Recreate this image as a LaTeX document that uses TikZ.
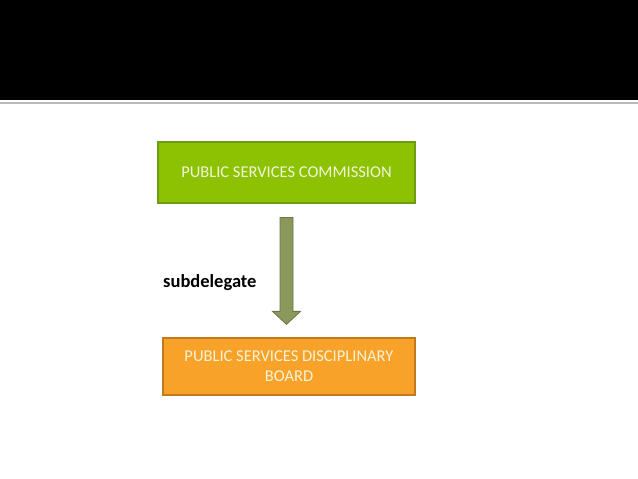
\documentclass[tikz,border=0pt]{standalone}
\usepackage{fontspec}
\setmainfont{Carlito}
\usetikzlibrary{calc}
\definecolor{boxgreen}{HTML}{8CC201}
\definecolor{edgegreen}{HTML}{6E9A14}
\definecolor{boxorange}{HTML}{F9A229}
\definecolor{edgeorange}{HTML}{C27A1E}
\definecolor{arrowolive}{HTML}{8A985C}
\definecolor{arrowedge}{HTML}{687640}
\definecolor{labeltext}{HTML}{F2F4D8}
\tikzset{
  bodybox/.style={draw,line width=1.2pt,align=center,text=labeltext,font=\fontsize{16.5}{20}\selectfont,inner sep=0pt},
}

\begin{document}
\begin{tikzpicture}[x=1pt,y=1pt]
\useasboundingbox (0,0) rectangle (638,479);
% title bar
\fill[black] (0,379) rectangle (638,479);
\draw[gray!55,line width=2pt] (0,375.5) -- (638,375.5);
% boxes
\node[bodybox,fill=boxgreen,draw=edgegreen,minimum width=257pt,minimum height=61pt] (psc) at (286.5,306.5) {PUBLIC SERVICES COMMISSION};
\node[bodybox,fill=boxorange,draw=edgeorange,minimum width=252pt,minimum height=57pt] (psdb) at (289,112.5) {PUBLIC SERVICES DISCIPLINARY\\BOARD};
% block arrow
\coordinate (top) at ($(psc.south)+(0,-14)$);
\coordinate (tip) at ($(psc.south |- psdb.north)+(0,13)$);
\filldraw[fill=arrowolive,draw=arrowedge,line width=0.8pt]
  ($(top)+(-6.5,0)$) -- ($(top)+(6.5,0)$) -- ($(tip)+(6.5,13)$) -- ($(tip)+(14,13)$)
  -- (tip) -- ($(tip)+(-14,13)$) -- ($(tip)+(-6.5,13)$) -- cycle;
\node[anchor=west,font=\bfseries\fontsize{18.5}{22}\selectfont,inner sep=0pt] (sub) at (163,196) {subdelegate};
\end{tikzpicture}
\end{document}
